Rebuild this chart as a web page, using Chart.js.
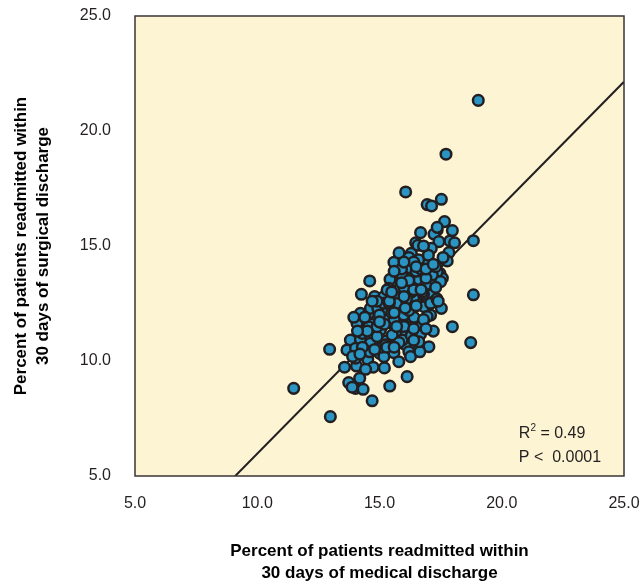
<!DOCTYPE html>
<html>
<head>
<meta charset="utf-8">
<script src="https://cdn.jsdelivr.net/npm/chart.js@4.4.1/dist/chart.umd.min.js"></script>
<style>
  body { margin: 0; background: #fff; }
  #wrap { width: 641px; height: 585px; }
</style>
</head>
<body>
<div id="wrap"><canvas id="chart" width="641" height="585"></canvas></div>
<script>
// ===== DATA =====
// % readmitted within 30 days of medical discharge (x) / surgical discharge (y)
const medicalPct = [
  19.04, 17.72, 16.07, 17.53, 16.95, 17.13, 17.66, 17.36, 17.98, 16.68, 17.23, 16.48, 17.43, 17.88, 18.07, 18.84,
  16.30, 17.12, 17.84, 17.77, 16.95, 16.27, 17.47, 17.57, 16.61, 17.16, 16.13, 18.84, 17.09, 16.61, 17.23, 16.07,
  16.82, 17.53, 16.41, 17.09, 17.98, 16.71, 16.13, 16.68, 18.73, 16.07, 17.02, 16.61,
  17.36, 16.57, 15.59, 17.36, 16.20, 15.43, 14.60, 15.93, 15.84, 15.38, 14.26, 14.80, 15.18, 15.66,
  14.77, 15.20, 15.79, 16.27, 14.22, 14.90, 15.38, 15.93, 14.08, 14.63,
  14.56, 15.31, 14.56, 15.04, 15.52, 15.93, 13.81, 14.22, 14.63, 15.29, 15.72,
  12.96, 13.67, 14.02, 14.43, 15.01, 15.59, 16.20, 13.57, 14.06, 14.52, 14.74, 14.43, 14.19, 13.74,
  14.02, 14.33, 15.42, 16.13, 11.49, 14.70,
  13.88, 14.02, 15.18, 15.79, 16.27, 16.65, 14.90, 15.66, 15.18, 14.90, 14.36, 14.63, 15.18, 15.93, 16.61,
  12.99,
  15.31, 14.93, 15.18, 16.89, 17.16, 17.50, 17.09, 16.95, 16.41, 15.99, 15.52, 16.30, 15.90, 16.50, 15.60,
  16.00, 16.20, 15.70, 16.50, 16.00, 16.30, 15.60, 16.80, 16.60, 16.20, 15.80, 16.40, 17.00,
  16.90, 17.30, 16.70, 17.60, 16.40, 15.40, 15.00, 14.40, 14.90, 15.50, 16.10, 16.80, 17.20, 15.20,
  14.60, 15.80, 16.40, 13.95, 14.30, 15.10, 16.75, 17.35, 16.05, 15.25,
  14.40, 14.70, 15.00, 15.40, 15.70, 14.30, 14.80, 15.30, 15.00, 14.50, 15.60, 16.00, 16.20, 16.50, 16.90,
  17.20, 15.90, 15.50, 16.70, 17.30, 14.10, 13.90, 14.20, 15.20, 15.60, 16.40, 16.90, 17.40, 16.00, 16.80
];
const surgicalPct = [
  21.33, 18.99, 17.35, 17.03, 16.80, 16.74, 16.06, 15.70, 15.67, 15.58, 15.52, 15.14, 15.19, 15.22, 15.14, 15.23,
  14.68, 14.90, 14.71, 14.35, 14.25, 14.03, 13.81, 13.60, 13.55, 13.52, 13.38, 12.88, 12.87, 12.80, 12.58, 12.58,
  12.36, 12.29, 11.90, 12.00, 11.49, 11.52, 11.49, 11.17, 10.80, 10.70, 10.62, 10.55,
  15.81, 15.03, 14.29, 13.88, 13.60, 13.55, 13.48, 13.67, 13.20, 13.16, 12.90, 12.80, 12.80, 12.77,
  12.39, 12.29, 12.29, 12.36, 12.07, 11.86, 11.90, 11.86, 11.64, 11.61,
  12.07, 12.10, 11.49, 11.35, 11.64, 11.27, 10.91, 10.94, 10.77, 10.88, 10.77,
  10.51, 10.48, 10.55, 10.40, 10.33, 10.36, 10.40, 9.73, 9.78, 10.07, 9.73, 9.64, 9.25, 9.06,
  8.81, 8.77, 8.91, 9.32, 8.81, 8.27,
  8.86, 10.12, 10.19, 9.97, 10.19, 10.40, 11.06, 11.20, 11.86, 11.49, 11.27, 12.29, 12.22, 10.91, 10.84,
  7.58,
  13.09, 12.29, 12.51, 13.30, 13.74, 13.45, 12.51, 11.93, 12.80, 12.00, 11.13, 13.00, 14.00, 13.90, 13.90,
  13.20, 12.20, 12.50, 12.40, 11.50, 11.10, 11.80, 12.90, 14.40, 14.50, 14.70, 14.30, 14.60,
  13.60, 14.10, 14.00, 14.50, 13.10, 12.50, 11.70, 11.90, 12.60, 12.10, 12.70, 11.80, 11.30, 11.60,
  10.40, 10.80, 11.40, 11.90, 11.20, 10.60, 13.00, 12.70, 12.30, 10.70,
  11.90, 12.60, 12.00, 12.60, 11.50, 10.60, 10.50, 10.60, 11.70, 11.30, 12.10, 12.80, 13.50, 14.10, 14.00,
  14.20, 13.40, 13.00, 13.10, 13.20, 11.30, 10.20, 10.30, 9.70, 10.60, 10.90, 11.40, 12.60, 14.30, 15.00
];
// regression line end points
const fitX = [9.1, 25];
const fitY = [5, 22.14];
const axisTicks = [5, 10, 15, 20, 25];
const statLines = ['R', '2', ' = 0.49', 'P <  0.0001'];

const FONT = 'Liberation Sans, Arial, sans-serif';
const BG = '#fdf4d4';
const INK = '#231f20';

const points = medicalPct.map((x, i) => ({ x, y: surgicalPct[i] }));
const fitLine = fitX.map((x, i) => ({ x, y: fitY[i] }));

// ===== PLOT BACKGROUND + FRAME + STATS =====
const plotFrame = {
  id: 'plotFrame',
  beforeDatasetsDraw(chart) {
    const { ctx, chartArea: a } = chart;
    ctx.save();
    ctx.fillStyle = BG;
    ctx.fillRect(a.left, a.top, a.right - a.left, a.bottom - a.top);
    ctx.restore();
  },
  afterDraw(chart) {
    const { ctx, chartArea: a, scales } = chart;
    ctx.save();
    ctx.strokeStyle = '#3a3434';
    ctx.lineWidth = 1.5;
    ctx.strokeRect(a.left, a.top, a.right - a.left, a.bottom - a.top);
    // stats text
    const sx = scales.x.getPixelForValue(20.7);
    const y1 = scales.y.getPixelForValue(6.83);
    const y2 = scales.y.getPixelForValue(5.78);
    ctx.fillStyle = INK;
    ctx.textBaseline = 'middle';
    ctx.textAlign = 'left';
    ctx.font = '16px ' + FONT;
    ctx.fillText(statLines[0], sx, y1);
    const rw = ctx.measureText(statLines[0]).width;
    ctx.font = '10px ' + FONT;
    ctx.fillText(statLines[1], sx + rw, y1 - 6);
    const sw = ctx.measureText(statLines[1]).width;
    ctx.font = '16px ' + FONT;
    ctx.fillText(statLines[2], sx + rw + sw, y1);
    ctx.fillText(statLines[3], sx, y2);
    ctx.restore();
  }
};

new Chart(document.getElementById('chart'), {
  type: 'scatter',
  data: {
    datasets: [
      {
        type: 'line',
        data: fitLine,
        borderColor: INK,
        borderWidth: 2,
        pointRadius: 0,
        fill: false,
        order: 2
      },
      {
        data: points,
        backgroundColor: '#2a95c2',
        borderColor: INK,
        borderWidth: 2.5,
        pointRadius: 5.3,
        order: 1
      }
    ]
  },
  options: {
    responsive: false,
    animation: false,
    layout: { padding: { top: 16, right: 17, left: 0, bottom: 0 } },
    plugins: { legend: { display: false }, tooltip: { enabled: false } },
    scales: {
      x: {
        type: 'linear',
        min: 5, max: 25,
        afterBuildTicks: s => { s.ticks = axisTicks.map(v => ({ value: v })); },
        afterFit: s => { s.height = 109; s.paddingLeft = 0; s.paddingRight = 0; },
        grid: { display: false },
        border: { display: false },
        ticks: { color: INK, padding: 10, font: { family: FONT, size: 16 }, callback: v => v.toFixed(1) },
        title: {
          display: true,
          text: ['Percent of patients readmitted within', '30 days of medical discharge'],
          color: '#000',
          font: { family: FONT, size: 17, weight: 'bold', lineHeight: 1.3 },
          padding: { top: 0, bottom: 1 }
        }
      },
      y: {
        type: 'linear',
        min: 5, max: 25,
        afterBuildTicks: s => { s.ticks = axisTicks.map(v => ({ value: v })); },
        afterFit: s => { s.width = 135; s.paddingTop = 0; s.paddingBottom = 0; },
        grid: { display: false },
        border: { display: false },
        ticks: { color: INK, padding: 16, font: { family: FONT, size: 16 }, callback: v => v.toFixed(1) },
        title: {
          display: true,
          text: ['Percent of patients readmitted within', '30 days of surgical discharge'],
          color: '#000',
          font: { family: FONT, size: 17, weight: 'bold', lineHeight: 1.3 },
          padding: { top: 10, bottom: 0 }
        }
      }
    }
  },
  plugins: [plotFrame]
});
</script>
</body>
</html>
